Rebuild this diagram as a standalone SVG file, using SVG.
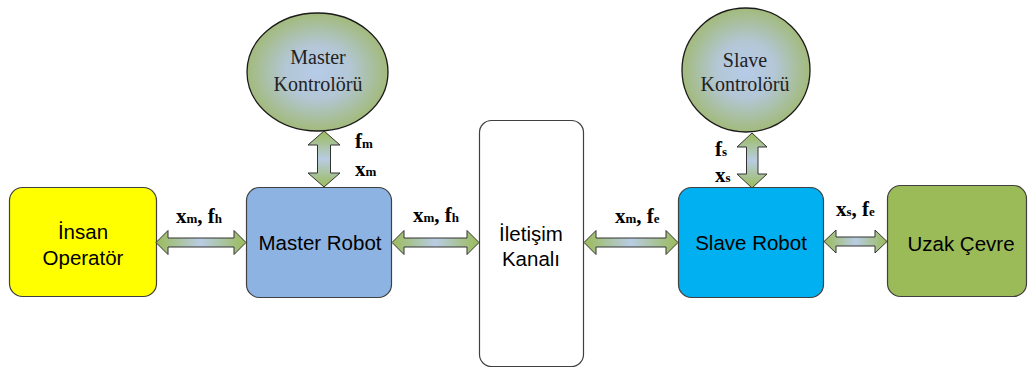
<svg xmlns="http://www.w3.org/2000/svg" width="1028" height="368" viewBox="0 0 1028 368">
<defs>
<radialGradient id="eg" cx="50%" cy="50%" r="50%">
<stop offset="0" stop-color="#b6cbe8"/>
<stop offset="0.45" stop-color="#b3c7d6"/>
<stop offset="1" stop-color="#a2ba7c"/>
</radialGradient>
<linearGradient id="hg" x1="0" y1="0" x2="1" y2="0">
<stop offset="0" stop-color="#9bbb59"/>
<stop offset="0.5" stop-color="#b8cce4"/>
<stop offset="1" stop-color="#9bbb59"/>
</linearGradient>
<linearGradient id="vg" x1="0" y1="0" x2="0" y2="1">
<stop offset="0" stop-color="#9bbb59"/>
<stop offset="0.5" stop-color="#b8cce4"/>
<stop offset="1" stop-color="#9bbb59"/>
</linearGradient>
</defs>
<style>
.box{stroke:#404040;stroke-width:1.2}
.ell{fill:url(#eg);stroke:#1a1a1a;stroke-width:1.3}
.t{font-family:"Liberation Sans",Arial,sans-serif;font-size:20.5px;fill:#000;text-anchor:middle}
.st{font-family:"Liberation Serif","Times New Roman",serif;font-size:20px;fill:#222;text-anchor:middle}
.lb{font-family:"Liberation Serif","Times New Roman",serif;font-size:21px;font-weight:bold;fill:#000}
.sub{font-size:13px}
.ha{fill:url(#hg);stroke:#333;stroke-width:1}
.va{fill:url(#vg);stroke:#333;stroke-width:1}
</style>
<g id="insan-operator">
<rect class="box" x="9.5" y="187.5" width="147" height="109" rx="13" fill="#ffff00"/>
<text class="t" x="83" y="239">İnsan</text>
<text class="t" x="83" y="265">Operatör</text>
</g>
<g id="master-robot">
<rect class="box" x="246.5" y="187.5" width="145" height="110" rx="13" fill="#8db3e2"/>
<text class="t" x="320" y="250">Master Robot</text>
</g>
<g id="iletisim-kanali">
<rect class="box" x="479.5" y="120.5" width="104" height="246" rx="12" fill="#ffffff"/>
<text class="t" x="531" y="241">İletişim</text>
<text class="t" x="531" y="266">Kanalı</text>
</g>
<g id="slave-robot">
<rect class="box" x="678.5" y="187.5" width="145" height="110" rx="13" fill="#00b0f0"/>
<text class="t" x="751" y="250">Slave Robot</text>
</g>
<g id="uzak-cevre">
<rect class="box" x="887.5" y="185.5" width="139" height="111" rx="13" fill="#9bbb59"/>
<text class="t" x="961" y="251">Uzak Çevre</text>
</g>
<g id="master-kontrolor">
<ellipse class="ell" cx="317.5" cy="72" rx="70.5" ry="59"/>
<text class="st" x="318" y="64">Master</text>
<text class="st" x="318" y="91">Kontrolörü</text>
</g>
<g id="slave-kontrolor">
<ellipse class="ell" cx="746" cy="70" rx="64" ry="62"/>
<text class="st" x="745" y="67">Slave</text>
<text class="st" x="745" y="91">Kontrolörü</text>
</g>
<g id="connectors">
<path class="ha" d="M156,242.5 L168,230.5 L168,238 L234,238 L234,230.5 L246,242.5 L234,254.5 L234,247 L168,247 L168,254.5 Z"/>
<path class="ha" d="M392,242.5 L404,230.5 L404,238 L467,238 L467,230.5 L479,242.5 L467,254.5 L467,247 L404,247 L404,254.5 Z"/>
<path class="ha" d="M584,242.5 L596,230.5 L596,238 L666,238 L666,230.5 L678,242.5 L666,254.5 L666,247 L596,247 L596,254.5 Z"/>
<path class="ha" d="M824,241.5 L836,230 L836,237 L875,237 L875,230 L887,241.5 L875,253 L875,246 L836,246 L836,253 Z"/>
<path class="va" d="M324,131 L340,145 L330.5,145 L330.5,173 L340,173 L324,187 L308,173 L317.5,173 L317.5,145 L308,145 Z"/>
<path class="va" d="M752,133 L767,147 L758,147 L758,174 L767,174 L752,188 L737,174 L746.5,174 L746.5,147 L737,147 Z"/>
</g>
<g id="labels">
<text class="lb" x="176" y="223">x<tspan class="sub">m</tspan>, f<tspan class="sub">h</tspan></text>
<text class="lb" x="413" y="222">x<tspan class="sub">m</tspan>, f<tspan class="sub">h</tspan></text>
<text class="lb" x="615" y="223">x<tspan class="sub">m</tspan>, f<tspan class="sub">e</tspan></text>
<text class="lb" x="836" y="216">x<tspan class="sub">s</tspan>, f<tspan class="sub">e</tspan></text>
<text class="lb" x="355" y="148">f<tspan class="sub">m</tspan></text>
<text class="lb" x="355" y="176">x<tspan class="sub">m</tspan></text>
<text class="lb" x="715" y="156">f<tspan class="sub">s</tspan></text>
<text class="lb" x="715" y="182">x<tspan class="sub">s</tspan></text>
</g>
</svg>
